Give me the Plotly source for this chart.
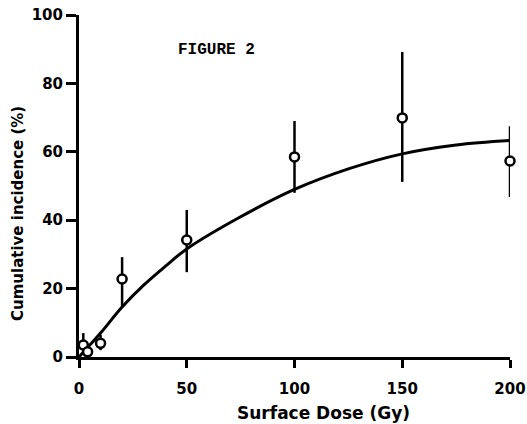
import plotly.graph_objects as go

# Observed data points
dose = [2, 4, 10, 20, 50, 100, 150, 200]
incidence = [3.5, 1.5, 4.0, 22.8, 34.2, 58.5, 69.9, 57.3]
err_hi = [7.0, 3.0, 6.5, 29.2, 43.0, 69.0, 89.2, 67.5]
err_lo = [1.0, 0.5, 2.0, 14.6, 24.8, 48.0, 51.2, 46.8]

# Fitted curve
fit_dose = [0, 5, 10, 20, 30, 40, 50, 75, 100, 125, 150, 175, 200]
fit_inc = [0, 3.5, 7.0, 14.6, 21.0, 26.5, 31.6, 41.0, 49.0, 55.0, 59.4, 62.0, 63.3]

x_ticks = [0, 50, 100, 150, 200]
y_ticks = [0, 20, 40, 60, 80, 100]

plus = [h - v for h, v in zip(err_hi, incidence)]
minus = [v - l for v, l in zip(incidence, err_lo)]

fig = go.Figure()
fig.add_trace(go.Scatter(
    x=fit_dose, y=fit_inc, mode="lines",
    line=dict(color="black", width=3, shape="spline"),
    hoverinfo="skip", cliponaxis=False,
))
fig.add_trace(go.Scatter(
    x=dose, y=incidence, mode="markers",
    marker=dict(symbol="circle", size=9, color="white",
                line=dict(color="black", width=2.5)),
    error_y=dict(type="data", symmetric=False, array=plus, arrayminus=minus,
                 color="black", thickness=2.5, width=0),
    cliponaxis=False,
))

font_b = dict(family="DejaVu Sans", size=15, color="black", weight="bold")

fig.update_layout(
    width=527, height=424,
    margin=dict(l=79, r=17, t=15, b=67),
    paper_bgcolor="white", plot_bgcolor="white",
    showlegend=False,
    xaxis=dict(
        range=[0, 200], tickvals=x_ticks, ticktext=[str(v) for v in x_ticks],
        showgrid=False, zeroline=False, showline=True, linecolor="black",
        linewidth=3, ticks="outside", ticklen=8, tickwidth=3, tickcolor="black",
        tickfont=font_b, ticklabelstandoff=8, ticklabeloverflow="allow",
        automargin=False,
    ),
    yaxis=dict(
        range=[0, 100], tickvals=y_ticks, ticktext=[str(v) for v in y_ticks],
        showgrid=False, zeroline=False, showline=True, linecolor="black",
        linewidth=3, ticks="outside", ticklen=10, tickwidth=3, tickcolor="black",
        tickfont=font_b, ticklabelstandoff=0, ticklabeloverflow="allow",
        automargin=False,
    ),
    annotations=[
        dict(text="Surface Dose (Gy)", xref="paper", yref="paper",
             x=(323 - 79) / 431, y=-(413 - 357) / 342, xanchor="center", yanchor="middle",
             showarrow=False, font=dict(family="DejaVu Sans", size=17, color="black", weight="bold")),
        dict(text="Cumulative incidence (%)", xref="paper", yref="paper",
             x=-(79 - 18) / 431, y=(357 - 214) / 342, xanchor="center", yanchor="middle",
             textangle=-90, showarrow=False,
             font=dict(family="DejaVu Sans", size=15, color="black", weight="bold")),
        dict(text="FIGURE 2", xref="paper", yref="paper",
             x=(176 - 79) / 431, y=(357 - 50) / 342, xanchor="left", yanchor="middle",
             showarrow=False,
             font=dict(family="Liberation Mono", size=16, color="black", weight="bold")),
    ],
)

fig.write_html("out.html")
